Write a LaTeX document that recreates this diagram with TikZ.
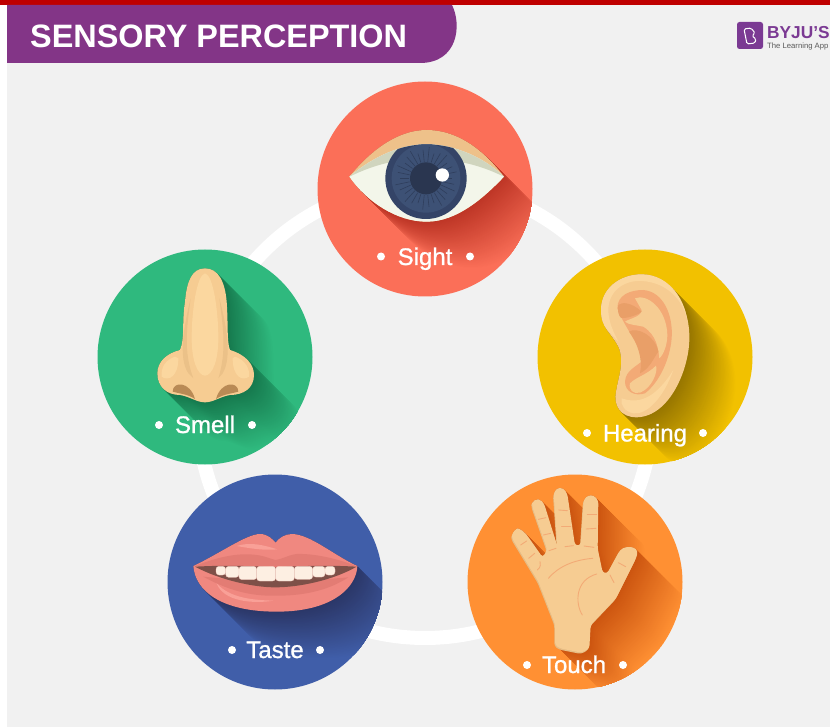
\documentclass[tikz,border=0pt]{standalone}
\usepackage{fontspec}
\setmainfont{Liberation Sans}
\newfontfamily\labfont[FakeBold=1]{Liberation Sans}
\definecolor{bgc}{HTML}{F1F1F1}
\definecolor{barred}{HTML}{BF0000}
\definecolor{purp}{HTML}{833587}
\definecolor{logop}{HTML}{7B3A93}
\definecolor{csight}{HTML}{FB6F58}
\definecolor{chear}{HTML}{F2C100}
\definecolor{ctouch}{HTML}{FF9033}
\definecolor{ctaste}{HTML}{405EA9}
\definecolor{csmell}{HTML}{2FB97E}
\definecolor{dsight}{HTML}{BE3626}
\definecolor{dhear}{HTML}{977600}
\definecolor{dtouch}{HTML}{CC5510}
\definecolor{dtaste}{HTML}{2B3768}
\definecolor{dsmell}{HTML}{167A4E}
\definecolor{skin}{HTML}{F6CC92}
\definecolor{skinlt}{HTML}{FBD79F}
\definecolor{skindk}{HTML}{E6BC84}
\definecolor{earor}{HTML}{F3AA76}
\definecolor{eardk}{HTML}{E99F68}
\definecolor{lip}{HTML}{F08880}
\definecolor{lipdk}{HTML}{E37C74}
\definecolor{liplt}{HTML}{F9A097}
\definecolor{tooth}{HTML}{FDEFE2}
\definecolor{lidc}{HTML}{EEC18A}
\definecolor{eyew}{HTML}{F3F6EA}
\definecolor{eyeg}{HTML}{D0D5BE}
\definecolor{irisa}{HTML}{344467}
\definecolor{irisb}{HTML}{3D5175}
\definecolor{irisc}{HTML}{2F3E5C}
\definecolor{pupil}{HTML}{2A3650}
\definecolor{mouthc}{HTML}{7E5048}
\definecolor{nostril}{HTML}{B98A55}
\newcommand{\lshadow}[3]{\foreach \d in {140,138,...,0}{\pgfmathtruncatemacro{\p}{100*\d/140}\fill[#2!\p!#3,shift={(\d,\d)}] #1;}}
\def\eyepath{(118,305) .. controls (200,205) and (280,165) .. (350,165) .. controls (430,165) and (510,210) .. (582,305) .. controls (520,370) and (440,440) .. (350,440) .. controls (260,440) and (170,380) .. (118,305) -- cycle}
\def\eyeinner{(118,305) .. controls (190,245) and (270,208) .. (350,208) .. controls (430,208) and (520,245) .. (582,305) .. controls (520,370) and (440,440) .. (350,440) .. controls (260,440) and (170,380) .. (118,305) -- cycle}
\def\earpath{(213,195) .. controls (213,130) and (270,88) .. (335,88) .. controls (420,88) and (480,180) .. (478,280) .. controls (478,370) and (420,515) .. (320,517) .. controls (270,517) and (250,480) .. (258,440) .. controls (265,395) and (285,350) .. (265,305) .. controls (245,265) and (213,250) .. (213,195) -- cycle}
\def\handpath{[rounded corners=3pt] (285,525) -- (285,462) -- (235,335) -- (156,205) -- (156,192) -- (168,175) -- (180,176) -- (197,190) -- (248,262) -- (262,240) -- (215,105) -- (218,95) -- (228,88) -- (240,88) -- (252,100) -- (292,228) -- (281,72) -- (290,54) -- (310,54) -- (322,72) -- (345,226) -- (362,226) -- (371,90) -- (383,76) -- (402,76) -- (415,92) -- (413,235) -- (428,308) -- (442,310) -- (480,240) -- (495,231) -- (520,231) -- (534,243) -- (528,265) -- (468,385) -- (392,465) -- (388,535) -- (365,548) -- (300,535) -- cycle}
\def\lippath{(100,288) .. controls (180,250) and (260,192) .. (300,192) .. controls (325,192) and (340,210) .. (347,218) .. controls (355,205) and (375,192) .. (395,192) .. controls (450,192) and (520,255) .. (592,288) .. controls (590,350) and (520,425) .. (350,425) .. controls (180,425) and (105,360) .. (100,288) -- cycle}
\def\nosepath{(345,70) .. controls (385,70) and (405,110) .. (410,170) .. controls (415,240) and (410,290) .. (420,315) .. controls (470,330) and (492,360) .. (492,390) .. controls (492,430) and (460,450) .. (420,450) .. controls (390,455) and (370,472) .. (345,472) .. controls (320,472) and (300,455) .. (270,450) .. controls (230,450) and (202,425) .. (202,385) .. controls (202,350) and (230,325) .. (270,315) .. controls (285,280) and (275,230) .. (285,170) .. controls (290,110) and (305,70) .. (345,70) -- cycle}
\tikzset{
  x=1pt,y=-1pt,
  labeltext/.style={text=white,font=\labfont\fontsize{24}{26}\selectfont,inner sep=0pt,anchor=base},
  zoomed/.style={scale=0.33333},
  crease/.style={draw=#1,line width=0.9pt,line cap=round},
}
\newcommand{\twodots}[3]{\fill[white] (#1,#3) circle (4) (#2,#3) circle (4);}
\begin{document}
\begin{tikzpicture}
\useasboundingbox (0,0) rectangle (830,727);
\fill[white] (0,0) rectangle (830,727);
\fill[bgc] (7,5) rectangle (830,727);
\fill[barred] (0,0) rectangle (830,5);
% banner
\fill[purp] (7,5) -- (452,5) .. controls (462,25) and (458,63) .. (420,63) -- (7,63) -- cycle;
\node[text=white,font=\bfseries\fontsize{32.4}{34}\selectfont,anchor=west,inner sep=0pt] (title) at (30,36) {SENSORY PERCEPTION};
% logo
\fill[logop,rounded corners=2.5pt] (737,22) rectangle (763,49);
\draw[white,line width=1pt,rounded corners=1.5pt] (744,29) -- (751,28) -- (755,33) -- (752,36) -- (756,39) -- (755,43) -- (747,44) -- cycle;
\node[text=logop,font=\bfseries\fontsize{17.3}{18}\selectfont,anchor=base west,inner sep=0pt] (logotext) at (767,38.5) {BYJU'S};
\node[text=black!65,font=\fontsize{7.7}{8}\selectfont,anchor=base west,inner sep=0pt] (logosub) at (767,48.5) {The Learning App};
% ring
\draw[white,line width=14pt] (425,411) circle (227);
% SIGHT
\fill[csight] (425,189) circle (107.5);
\begin{scope}
\clip (425,189) circle (107.5);
\begin{scope}[shift={(310,75)},zoomed]
\lshadow{\eyepath}{csight}{dsight}
\fill[lidc] \eyepath;
\fill[eyew] \eyeinner;
\fill[eyeg] (118,305) .. controls (190,245) and (270,208) .. (350,208) .. controls (430,208) and (520,245) .. (582,305) .. controls (540,285) and (500,270) .. (455,262) -- (240,262) .. controls (200,270) and (160,285) .. (118,305) -- cycle;
\begin{scope}
\clip \eyeinner;
\fill[irisa] (348,310) circle (122);
\fill[irisb] (348,310) circle (103);
\foreach \a in {0,12,...,348}{\draw[irisc,line width=0.6pt] (348,310) ++(\a:50) -- ++(\a:{28+8*mod(\a/12,3)});}
\fill[pupil] (348,310) circle (48);
\end{scope}
\fill[white] (397,300) circle (20);
\end{scope}
\end{scope}
\node[labeltext] (sight) at (425,265) {Sight};
\twodots{381}{470}{256.5}
% HEARING
\fill[chear] (645,357) circle (107.5);
\begin{scope}
\clip (645,357) circle (107.5);
\begin{scope}[shift={(530,245)},zoomed]
\lshadow{\earpath}{chear}{dhear}
\fill[skin] \earpath;
\fill[skinlt] (213,195) .. controls (213,130) and (270,88) .. (335,88) .. controls (420,88) and (470,170) .. (473,240) .. controls (470,180) and (420,112) .. (335,108) .. controls (280,105) and (235,140) .. (235,195) .. controls (235,230) and (250,260) .. (265,290) .. controls (240,260) and (213,250) .. (213,195) -- cycle;
\fill[skinlt] (275,460) .. controls (320,475) and (370,470) .. (430,375) .. controls (400,460) and (350,510) .. (310,505) .. controls (285,500) and (270,480) .. (275,460) -- cycle;
\fill[earor] (262,190) .. controls (262,150) and (300,135) .. (340,135) .. controls (400,140) and (430,210) .. (425,280) .. controls (420,340) and (390,410) .. (345,445) .. controls (315,455) and (285,440) .. (285,410) .. controls (287,375) and (320,365) .. (340,345) .. controls (330,300) and (285,250) .. (262,190) -- cycle;
\fill[skin] (315,160) .. controls (350,145) and (410,190) .. (412,270) .. controls (412,300) and (400,330) .. (388,340) .. controls (385,310) and (380,270) .. (340,245) .. controls (320,240) and (295,240) .. (285,230) .. controls (300,220) and (335,215) .. (335,195) -- cycle;
\fill[eardk] (265,180) .. controls (275,170) and (305,172) .. (335,200) .. controls (320,212) and (285,222) .. (272,218) .. controls (265,210) and (262,195) .. (265,180) -- cycle;
\fill[eardk] (297,260) .. controls (320,245) and (375,270) .. (385,320) .. controls (370,340) and (360,370) .. (330,385) .. controls (340,340) and (320,290) .. (297,260) -- cycle;
\fill[skin] (300,415) .. controls (320,395) and (350,390) .. (378,362) .. controls (385,380) and (365,430) .. (330,443) .. controls (310,448) and (295,435) .. (300,415) -- cycle;
\end{scope}
\end{scope}
\node[labeltext] (hearing) at (645,441.5) {Hearing};
\twodots{587}{703}{433}
% TOUCH
\fill[ctouch] (575,582) circle (107.5);
\begin{scope}
\clip (575,582) circle (107.5);
\begin{scope}[shift={(460,470)},zoomed]
\lshadow{\handpath}{ctouch}{dtouch}
\fill[skindk,shift={(-2,4)}] \handpath;
\fill[skin] \handpath;
\foreach \ax/\ay/\bx/\by in {182/225/200/213,206/265/224/250,235/148/258/143,250/195/272/190,267/242/288/235,296/120/322/122,305/168/332/168,315/230/340/227,382/133/410/133,378/177/408/175,372/228/402/232,475/278/497/290,450/315/462/338}{\draw[crease=earor] (\ax,\ay) -- (\bx,\by);}
\draw[crease=earor] (232,300) .. controls (245,290) and (240,280) .. (240,275);
\draw[crease=earor] (265,325) .. controls (295,290) and (340,270) .. (398,265);
\draw[crease=earor] (367,435) .. controls (345,400) and (345,330) .. (410,312);
\end{scope}
\end{scope}
\node[labeltext] (touch) at (574,673) {Touch};
\twodots{527}{623}{665}
% TASTE
\fill[ctaste] (275,582) circle (107.5);
\begin{scope}
\clip (275,582) circle (107.5);
\begin{scope}[shift={(160,470)},zoomed]
\lshadow{\lippath}{ctaste}{dtaste}
\fill[lip] \lippath;
\fill[lipdk] (105,288) .. controls (180,258) and (240,248) .. (290,255) .. controls (315,258) and (335,268) .. (347,270) .. controls (365,268) and (385,255) .. (410,252) .. controls (460,250) and (530,265) .. (588,288) -- (345,310) -- cycle;
\fill[lipdk] (130,320) .. controls (220,370) and (290,378) .. (345,377) .. controls (420,378) and (500,365) .. (565,322) -- (345,340) -- cycle;
\fill[liplt] (170,340) .. controls (210,385) and (280,390) .. (340,392) .. controls (280,402) and (190,395) .. (170,340) -- cycle;
\fill[liplt] (230,228) .. controls (270,215) and (310,225) .. (352,238) .. controls (310,242) and (270,235) .. (230,228) -- cycle;
\fill[mouthc] (105,290) .. controls (200,285) and (270,288) .. (345,292) .. controls (420,288) and (500,285) .. (590,290) .. controls (520,330) and (420,352) .. (345,352) .. controls (280,352) and (180,330) .. (105,290) -- cycle;
\foreach \a/\b/\c in {168/197/315,197/237/322,237/290/329,290/347/333,347/403/333,403/458/328,458/495/321,495/525/315}{\fill[tooth,draw=lipdk!30!tooth,line width=0.3pt,rounded corners=3pt] (\a,289) rectangle (\b,\c);}
\end{scope}
\end{scope}
\node[labeltext] (taste) at (275,658) {Taste};
\twodots{232}{320}{650}
% SMELL
\fill[csmell] (205,357) circle (107.5);
\begin{scope}
\clip (205,357) circle (107.5);
\begin{scope}[shift={(90,245)},zoomed]
\lshadow{\nosepath}{csmell}{dsmell}
\fill[skin] \nosepath;
\fill[skindk!70!skin] (302,160) .. controls (290,250) and (280,320) .. (310,400) -- (295,385) .. controls (265,340) and (280,250) .. (302,160) -- cycle;
\fill[skindk!70!skin] (388,160) .. controls (400,250) and (410,320) .. (385,400) -- (398,385) .. controls (425,340) and (412,250) .. (388,160) -- cycle;
\fill[skinlt] (345,85) .. controls (370,90) and (385,200) .. (385,280) .. controls (385,340) and (370,390) .. (345,392) .. controls (320,390) and (305,340) .. (305,280) .. controls (305,200) and (320,90) .. (345,85) -- cycle;
\fill[skinlt] (255,335) .. controls (225,345) and (212,370) .. (215,395) .. controls (235,410) and (265,395) .. (265,340) -- cycle;
\fill[skinlt] (435,335) .. controls (465,345) and (480,370) .. (477,395) .. controls (457,410) and (428,395) .. (428,340) -- cycle;
\fill[nostril] (248,440) .. controls (248,408) and (300,408) .. (315,462) .. controls (295,448) and (270,446) .. (248,440) -- cycle;
\fill[nostril] (445,440) .. controls (445,408) and (393,408) .. (378,462) .. controls (398,448) and (423,446) .. (445,440) -- cycle;
\end{scope}
\end{scope}
\node[labeltext] (smell) at (205,433) {Smell};
\twodots{159}{252}{425}
\end{tikzpicture}
\end{document}
